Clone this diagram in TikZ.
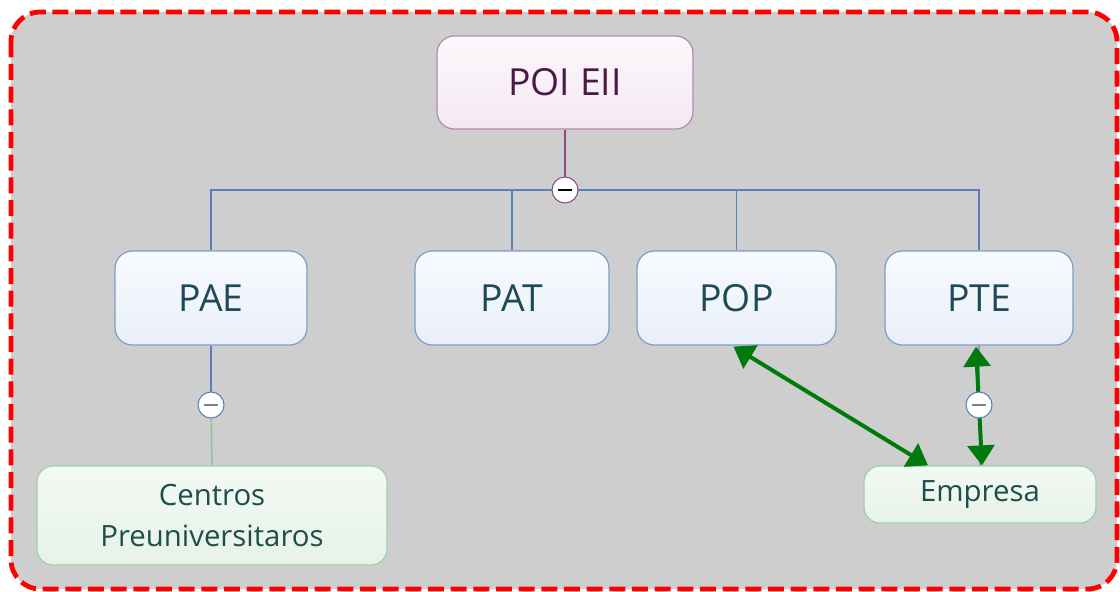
\documentclass[tikz,border=0pt]{standalone}
\usepackage{fontspec}
\setmainfont{Open Sans}
\usetikzlibrary{arrows.meta,calc}
\definecolor{bggray}{HTML}{CECECE}
\definecolor{busblue}{HTML}{5A80B8}
\definecolor{childborder}{HTML}{7B9DC9}
\definecolor{childtext}{HTML}{1E4A58}
\definecolor{roottext}{HTML}{4A1A44}
\definecolor{rootborder}{HTML}{B28AB0}
\definecolor{rootline}{HTML}{8A4A80}
\definecolor{leafborder}{HTML}{9ECFAA}
\definecolor{leafline}{HTML}{8CC498}
\definecolor{leaftext}{HTML}{1E4E4A}
\definecolor{arrgreen}{HTML}{007A0A}
\definecolor{HTML-pinkA}{HTML}{FDF8FC}
\definecolor{HTML-pinkB}{HTML}{F4E8F2}
\definecolor{HTML-blueA}{HTML}{F8FAFE}
\definecolor{HTML-blueB}{HTML}{E9EFF9}
\definecolor{HTML-greenA}{HTML}{F3F9F4}
\definecolor{HTML-greenB}{HTML}{E6F2E8}
\tikzset{
  rootbox/.style={draw=rootborder,line width=0.9pt,rounded corners=13pt,
    top color=HTML-pinkA,bottom color=HTML-pinkB,
    text=roottext,font=\fontsize{28}{32}\selectfont,inner sep=0pt,
    minimum width=192pt,minimum height=69.75pt},
  childbox/.style={draw=childborder,line width=0.9pt,rounded corners=13pt,
    top color=HTML-blueA,bottom color=HTML-blueB,
    text=childtext,font=\fontsize{28}{32}\selectfont,inner sep=0pt,
    minimum height=70.5pt},
  leafbox/.style={draw=leafborder,line width=0.9pt,rounded corners=12pt,
    top color=HTML-greenA,bottom color=HTML-greenB,
    text=leaftext,font=\fontsize{22}{31}\selectfont,inner sep=0pt,align=center},
  collapse/.style={circle,draw=busblue,fill=white,line width=0.8pt,inner sep=0pt,
    minimum size=19.5pt},
  busline/.style={draw=busblue,line width=0.9pt},
  biarrow/.style={draw=arrgreen,line width=3pt,
    {Triangle[length=15pt,width=20pt]}-{Triangle[length=15pt,width=20pt]}},
}
\begin{document}
\begin{tikzpicture}[x=0.75pt,y=-0.75pt]
\useasboundingbox (0,0) rectangle (1120,592);
\fill[white] (0,0) rectangle (1120,592);
\draw[draw=red,fill=bggray,line width=3.6pt,dash pattern=on 12pt off 5pt,rounded corners=22pt]
  (11,12) rectangle (1117,589);

\node[rootbox] (root) at (565,82.5) {POI EII};
\node[childbox,minimum width=144pt] (pae) at (211,298) {PAE};
\node[childbox,minimum width=145.5pt] (pat) at (512,298) {PAT};
\node[childbox,minimum width=149.25pt] (pop) at (736.5,298) {POP};
\node[childbox,minimum width=141pt] (pte) at (979,298) {PTE};
\node[leafbox,minimum width=262.5pt,minimum height=74.25pt] (cen) at (212,515.5) {Centros\\Preuniversitaros};
\node[leafbox,minimum width=174pt,minimum height=42.75pt] (emp) at (980,494.5) {Empresa};

\coordinate (c0) at (565,190);
\coordinate (c1) at (211,405);
\coordinate (c2) at (979,405);

\draw[busline] (c0) -| (pae.north);
\draw[busline] (c0) -| (pat.north);
\draw[busline] (c0) -| (pop.north);
\draw[busline] (c0) -| (pte.north);
\draw[draw=rootline,line width=0.9pt] (root.south) -- (c0);
\draw[busline] (pae.south) -- (c1);
\draw[draw=leafline,line width=1.1pt] (c1) -- (cen.north);
\draw[busline] (pte.south) -- (c2) -- (emp.north);

\draw[biarrow] ($(pop.south)+(-3,1)$) -- ($(emp.north)+(-52,0)$);
\draw[biarrow] ($(pte.south)+(-3,1)$) -- ($(emp.north)+(2,0)$);

\node[collapse,draw=rootline] (k0) at (c0) {\color{black}\rule{10pt}{1.1pt}};
\node[collapse] (k1) at (c1) {\color{gray}\rule{10pt}{1.5pt}};
\node[collapse] (k2) at (c2) {\color{gray}\rule{10pt}{1.5pt}};
\end{tikzpicture}
\end{document}
